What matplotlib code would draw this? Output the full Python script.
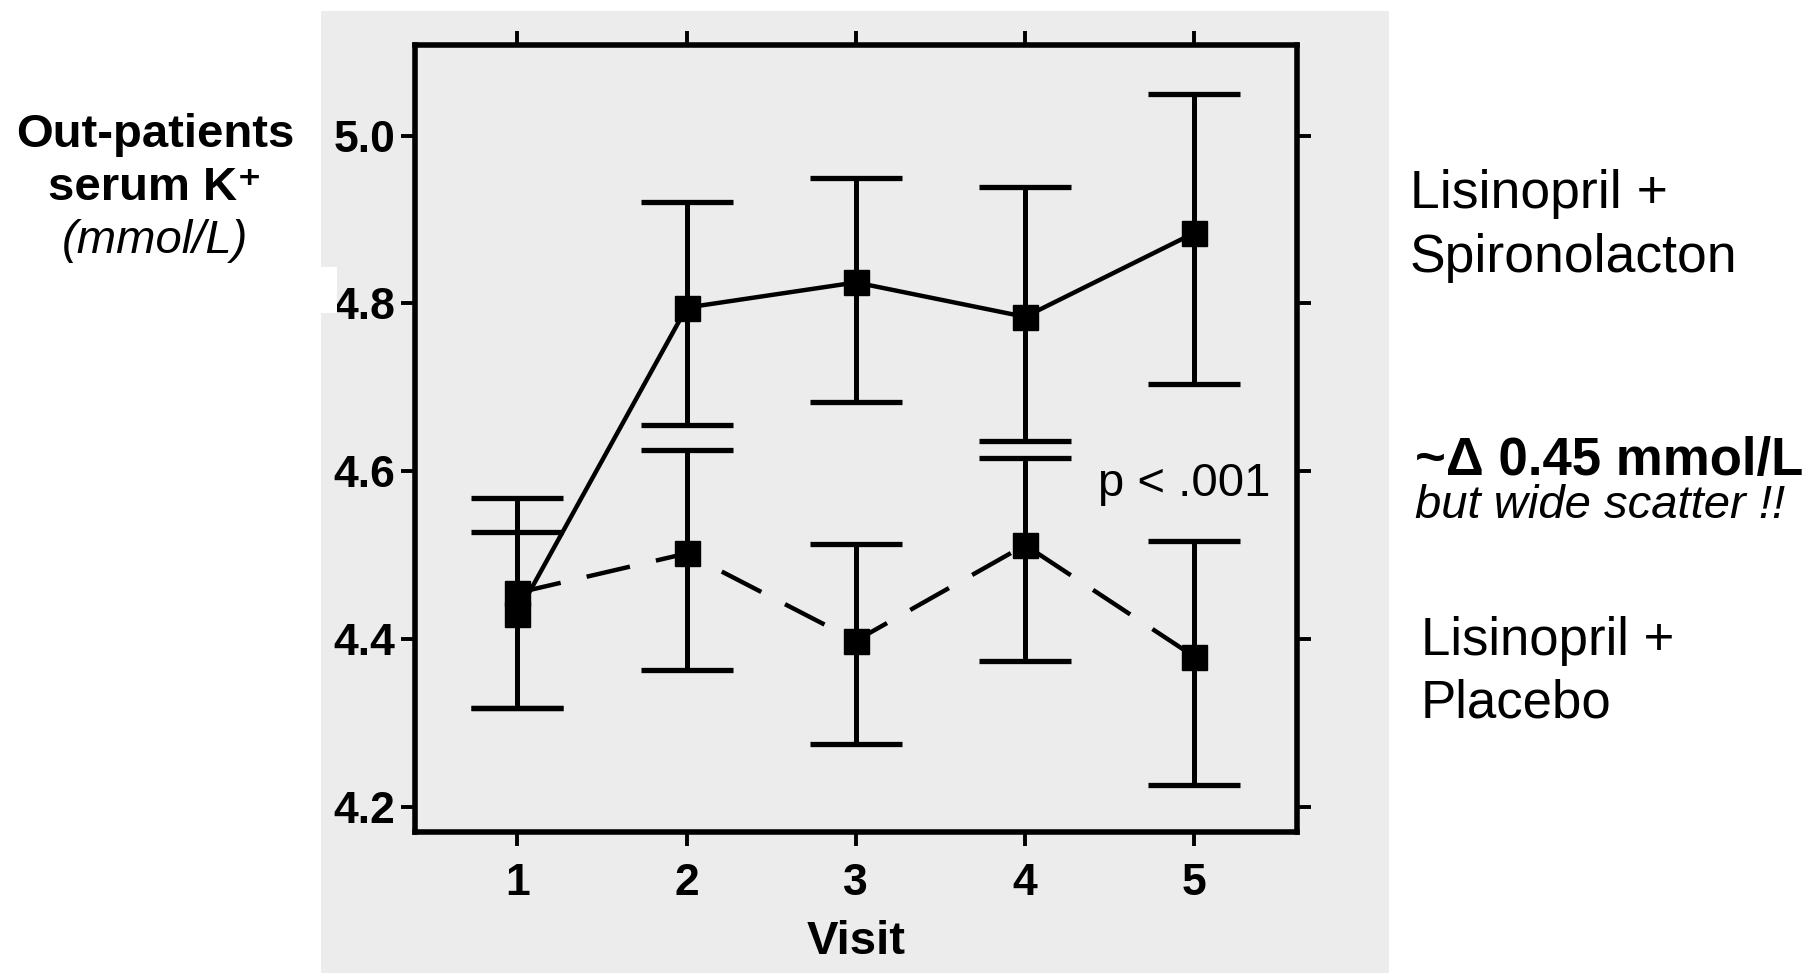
import matplotlib
matplotlib.use("Agg")
import matplotlib.pyplot as plt
from matplotlib.patches import Rectangle
import numpy as np

plt.rcParams['font.family'] = ['Liberation Sans', 'DejaVu Sans']

# serum K+ per visit
visits = [1, 2, 3, 4, 5]
spiro_mean = np.array([4.430, 4.795, 4.825, 4.784, 4.884])
spiro_upper = np.array([4.528, 4.921, 4.950, 4.939, 5.050])
spiro_lower = np.array([4.318, 4.655, 4.682, 4.636, 4.704])
placebo_mean = np.array([4.455, 4.502, 4.398, 4.512, 4.379])
placebo_upper = np.array([4.568, 4.625, 4.513, 4.616, 4.517])
placebo_lower = np.array([4.318, 4.363, 4.275, 4.374, 4.226])
yticks = [4.2, 4.4, 4.6, 4.8, 5.0]

W, H = 1807, 973
fig = plt.figure(figsize=(W / 100, H / 100), dpi=100)
gray = '#ececec'

# grey panel behind the plot
fig.patches.append(Rectangle((321 / W, 0), (1389 - 321) / W, (973 - 11) / H,
                             transform=fig.transFigure, facecolor=gray,
                             edgecolor='none', zorder=-5))

ax = fig.add_axes([415 / W, 141 / H, (1297 - 415) / W, (832 - 45) / H])
ax.set_facecolor(gray)
ax.set_xlim(0.395, 5.607)
ax.set_ylim(4.170, 5.108)

# error bars
for mean, lo, hi in [(spiro_mean, spiro_lower, spiro_upper),
                     (placebo_mean, placebo_lower, placebo_upper)]:
    ax.errorbar(visits, mean, yerr=[mean - lo, hi - mean], fmt='none',
                ecolor='black', elinewidth=3.6, capsize=33, capthick=3.8,
                zorder=2)

ax.plot(visits, spiro_mean, '-', color='black', lw=3.2, zorder=3)
ax.plot(visits, placebo_mean, color='black', lw=3.2, linestyle=(0, (10, 6)),
        dash_capstyle='butt', zorder=3)
ax.plot(visits, spiro_mean, 's', color='black', ms=18, zorder=4)
ax.plot(visits, placebo_mean, 's', color='black', ms=18, zorder=4)

ax.set_xticks(visits)
ax.set_yticks(yticks)
ax.set_yticklabels(['%.1f' % v for v in yticks])
ax.tick_params(axis='both', direction='out', length=10, width=2.8,
               labelsize=32, top=True, right=True, labeltop=False,
               labelright=False)
ax.tick_params(axis='y', pad=4)
ax.tick_params(axis='x', pad=12)
for lab in ax.get_xticklabels() + ax.get_yticklabels():
    lab.set_fontweight('bold')
for sp in ax.spines.values():
    sp.set_linewidth(4)

ax.set_xlabel('Visit', fontsize=34, fontweight='bold')
ax.xaxis.set_label_coords(0.5, -0.112)

ax.text(4.431, 4.585, 'p < .001', fontsize=34, ha='left', va='center')

# small white patch clipping the "4" of 4.8 as in the source image
fig.patches.append(Rectangle((321 / W, 1 - 313 / H), 16 / W, 46 / H,
                             transform=fig.transFigure, facecolor='white',
                             edgecolor='none', zorder=10))

# left annotation
fig.text(155 / W, 1 - 147 / H, 'Out-patients', fontsize=34, fontweight='bold',
         ha='center', va='baseline')
fig.text(155 / W, 1 - 200 / H, 'serum K\u207a', fontsize=34, fontweight='bold',
         ha='center', va='baseline')
fig.text(155 / W, 1 - 253 / H, '(mmol/L)', fontsize=34, style='italic',
         ha='center', va='baseline')

# right annotations
fig.text(1410 / W, 1 - 208 / H, 'Lisinopril +', fontsize=38.5, ha='left', va='baseline')
fig.text(1410 / W, 1 - 272 / H, 'Spironolacton', fontsize=38.5, ha='left', va='baseline')
fig.text(1415 / W, 1 - 475 / H, '~\u0394 0.45 mmol/L', fontsize=38, fontweight='bold',
         ha='left', va='baseline')
fig.text(1415 / W, 1 - 518 / H, 'but wide scatter !!', fontsize=34, style='italic',
         ha='left', va='baseline')
fig.text(1421 / W, 1 - 655 / H, 'Lisinopril +', fontsize=38, ha='left', va='baseline')
fig.text(1421 / W, 1 - 717 / H, 'Placebo', fontsize=38, ha='left', va='baseline')

fig.savefig('out.png', dpi=100)
